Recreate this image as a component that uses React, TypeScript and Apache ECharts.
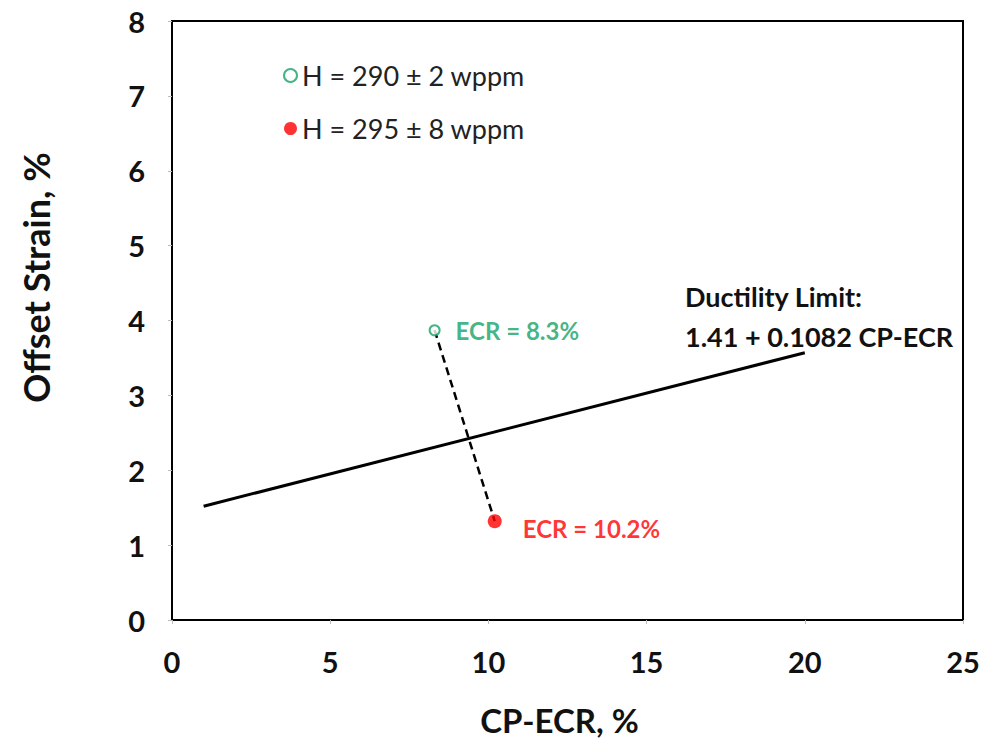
import React, { useEffect, useRef } from "react";
import * as echarts from "echarts";

// Test points: [CP-ECR %, offset strain %]
const lowHPoint: [number, number][] = [[8.3, 3.87]];
const highHPoint: [number, number][] = [[10.2, 1.32]];
// Ductility limit line end points (1.41 + 0.1082 CP-ECR)
const limitLine: [number, number][] = [
  [1, 1.52],
  [20, 3.57],
];
const seriesNames = ["H = 290 ± 2 wppm", "H = 295 ± 8 wppm"];
const limitText = ["Ductility Limit:", "1.41 + 0.1082 CP-ECR"];

const GREEN = "#14a265";
const RED = "#ff0000";
const FONT = "Lato, 'Liberation Sans', sans-serif";

export default function App() {
  const ref = useRef<HTMLDivElement>(null);

  useEffect(() => {
    if (!ref.current) return;
    const chart = echarts.init(ref.current, undefined, { renderer: "svg" });
    chart.setOption({
      animation: false,
      backgroundColor: "#ffffff",
      textStyle: { fontFamily: FONT },
      grid: {
        left: 172,
        top: 21,
        right: 26,
        bottom: 119,
        show: true,
        borderColor: "#000",
        borderWidth: 2,
      },
      legend: {
        orient: "vertical",
        left: 278,
        top: 57,
        itemGap: 26,
        itemWidth: 13,
        itemHeight: 13,
        data: [
          { name: seriesNames[0], icon: "emptyCircle", itemStyle: { borderWidth: 2 } },
          { name: seriesNames[1], icon: "circle" },
        ],
        textStyle: { fontFamily: FONT, fontSize: 27, color: "#222" },
      },
      xAxis: {
        type: "value",
        min: 0,
        max: 25,
        interval: 5,
        name: "CP-ECR, %",
        nameLocation: "middle",
        nameGap: 83,
        nameTextStyle: {
          fontFamily: FONT,
          fontSize: 33,
          fontWeight: "bold",
          color: "#111",
          padding: [0, 16, 0, 0],
        },
        axisLine: { show: true, lineStyle: { color: "#000", width: 2 } },
        axisTick: { show: true, length: 4, lineStyle: { color: "#bbb" } },
        axisLabel: { fontFamily: FONT, fontSize: 29, fontWeight: "bold", color: "#111", margin: 27 },
        splitLine: { show: false },
      },
      yAxis: {
        type: "value",
        min: 0,
        max: 8,
        interval: 1,
        name: "Offset Strain, %",
        nameLocation: "middle",
        nameGap: 118,
        nameTextStyle: {
          fontFamily: FONT,
          fontSize: 36,
          fontWeight: "bold",
          color: "#111",
          padding: [0, 0, 0, 86],
        },
        axisLine: { show: true, lineStyle: { color: "#000", width: 2 } },
        axisTick: { show: true, length: 4, lineStyle: { color: "#bbb" } },
        axisLabel: { fontFamily: FONT, fontSize: 29, fontWeight: "bold", color: "#111", margin: 27 },
        splitLine: { show: false },
      },
      series: [
        {
          name: "limit",
          type: "line",
          data: limitLine,
          symbol: "none",
          lineStyle: { color: "#000", width: 3 },
          silent: true,
          z: 2,
        },
        {
          name: "link",
          type: "line",
          data: [lowHPoint[0], highHPoint[0]],
          symbol: "none",
          lineStyle: { color: "#000", width: 2.5, type: [8, 5] },
          silent: true,
          z: 2,
        },
        {
          name: seriesNames[0],
          type: "scatter",
          data: lowHPoint,
          symbol: "emptyCircle",
          symbolSize: 10,
          itemStyle: { color: GREEN, borderColor: GREEN, borderWidth: 2 },
          label: {
            show: true,
            position: "right",
            distance: 15,
            formatter: (p: any) => `ECR = ${p.value[0]}%`,
            fontFamily: FONT,
            fontSize: 24,
            fontWeight: "bold",
            color: GREEN,
          },
          z: 3,
        },
        {
          name: seriesNames[1],
          type: "scatter",
          data: highHPoint,
          symbol: "circle",
          symbolSize: 14,
          itemStyle: { color: RED },
          label: {
            show: true,
            position: "right",
            distance: 21,
            offset: [0, 7],
            formatter: (p: any) => `ECR = ${p.value[0]}%`,
            fontFamily: FONT,
            fontSize: 24,
            fontWeight: "bold",
            color: RED,
          },
          z: 3,
        },
      ],
      graphic: [
        {
          type: "text",
          left: 685,
          top: 276,
          style: {
            text: limitText.join("\n"),
            fontFamily: FONT,
            fontSize: 27,
            fontWeight: "bold",
            fill: "#111",
            lineHeight: 40,
          },
        },
      ],
    });
    return () => chart.dispose();
  }, []);

  return (
    <div
      ref={ref}
      style={{ position: "fixed", left: 0, top: 0, width: 989, height: 741 }}
    />
  );
}
